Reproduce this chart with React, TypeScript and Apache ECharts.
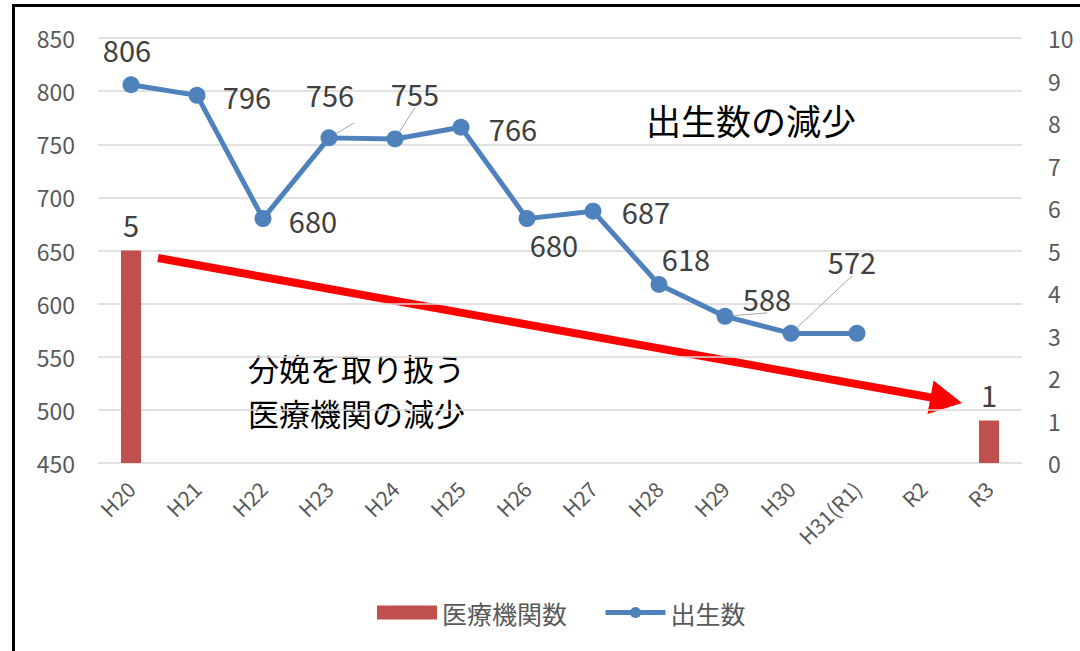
import React, { useEffect, useRef } from "react";
import * as echarts from "echarts";

const categories = ["H20", "H21", "H22", "H23", "H24", "H25", "H26", "H27", "H28", "H29", "H30", "H31(R1)", "R2", "R3"];
const births: (number | null)[] = [806, 796, 680, 756, 755, 766, 680, 687, 618, 588, 572, 572, null, null];
const facilities: (number | null)[] = [5, null, null, null, null, null, null, null, null, null, null, null, null, 1];
const birthLabelShown = [true, true, true, true, true, true, true, true, true, true, true, false, false, false];
const birthLabelOffsets: [number, number][] = [
  [-4, -36], [50, 1], [50, 1], [1, -44], [20, -46], [52, 1], [27, 25], [53, 0], [27, -27], [42, -18], [61, -72], [0, 0], [0, 0], [0, 0],
];
const birthLabelLine = [false, false, false, true, true, false, false, false, false, true, true, false, false, false];

const FONT = "'Noto Sans CJK JP', 'Noto Sans', sans-serif";

export default function App() {
  const ref = useRef<HTMLDivElement>(null);
  useEffect(() => {
    if (!ref.current) return;
    const chart = echarts.init(ref.current, undefined, { renderer: "svg" });
    const tip = [962, 403];
    const ux = 0.984, uy = 0.177;
    const nx = -0.177, ny = 0.984;
    const hl = 32, hw = 17;
    const bx = tip[0] - hl * ux, by = tip[1] - hl * uy;
    chart.setOption({
      animation: false,
      textStyle: { fontFamily: FONT },
      grid: { left: 98, right: 58, top: 38, bottom: 188 },
      legend: {
        left: 372,
        top: 595,
        itemWidth: 60,
        itemHeight: 14,
        itemGap: 36,
        textStyle: { fontSize: 25, color: "#595959", fontFamily: FONT },
        data: [
          { name: "医療機関数", icon: "rect" },
          { name: "出生数", lineStyle: { width: 5, color: "#4F81BD" }, itemStyle: { color: "#4F81BD" } },
        ],
      },
      xAxis: {
        type: "category",
        data: categories,
        axisLine: { show: false },
        axisTick: { show: false },
        axisLabel: { rotate: 45, fontSize: 21, color: "#595959", margin: 22, fontFamily: FONT },
      },
      yAxis: [
        {
          type: "value",
          min: 450,
          max: 850,
          interval: 50,
          axisLine: { show: false },
          axisTick: { show: false },
          axisLabel: { fontSize: 23, color: "#595959", margin: 23, fontFamily: FONT },
          splitLine: { lineStyle: { color: "#D9D9D9", width: 1.5 } },
        },
        {
          type: "value",
          min: 0,
          max: 10,
          interval: 1,
          axisLine: { show: false },
          axisTick: { show: false },
          axisLabel: { fontSize: 23, color: "#595959", margin: 26, fontFamily: FONT },
          splitLine: { show: false },
        },
      ],
      series: [
        {
          name: "医療機関数",
          type: "bar",
          yAxisIndex: 1,
          barWidth: 20,
          itemStyle: { color: "#C0504D" },
          label: { show: true, position: "top", distance: 12, fontSize: 29, color: "#404040", fontFamily: FONT },
          data: facilities,
        },
        {
          name: "出生数",
          type: "line",
          yAxisIndex: 0,
          symbol: "circle",
          symbolSize: 17,
          lineStyle: { color: "#4F81BD", width: 5 },
          itemStyle: { color: "#4F81BD" },
          labelLine: { show: false, lineStyle: { color: "#A6A6A6", width: 1 } },
          data: births.map((v, i) => ({
            value: v,
            label: {
              show: birthLabelShown[i],
              position: "inside",
              offset: birthLabelOffsets[i],
              fontSize: 29,
              color: "#404040",
              fontFamily: FONT,
            },
            labelLine: { show: birthLabelLine[i], lineStyle: { color: "#A6A6A6", width: 1 } },
          })),
        },
      ],
      graphic: [
        {
          type: "rect",
          shape: { x: 13.5, y: 5.5, width: 1100, height: 700 },
          style: { fill: "none", stroke: "#000", lineWidth: 3 },
          silent: true,
        },
        {
          type: "line",
          shape: { x1: 158, y1: 258, x2: bx + 2 * ux, y2: by + 2 * uy },
          style: { stroke: "#FF0000", lineWidth: 8 },
          silent: true,
        },
        {
          type: "polygon",
          shape: {
            points: [
              [tip[0], tip[1]],
              [bx + hw * nx, by + hw * ny],
              [bx - hw * nx, by - hw * ny],
            ],
          },
          style: { fill: "#FF0000" },
          silent: true,
        },
        {
          type: "text",
          left: 646,
          top: 102,
          style: { text: "出生数の減少", font: `35px ${FONT}`, fill: "#000" },
          silent: true,
        },
        {
          type: "text",
          left: 248,
          top: 352,
          style: { text: "分娩を取り扱う", font: `31px ${FONT}`, fill: "#000" },
          silent: true,
        },
        {
          type: "text",
          left: 248,
          top: 397,
          style: { text: "医療機関の減少", font: `31px ${FONT}`, fill: "#000" },
          silent: true,
        },
      ],
    });
    return () => chart.dispose();
  }, []);
  return <div ref={ref} style={{ position: "absolute", left: 0, top: 0, width: 1080, height: 651, background: "#fff" }} />;
}
